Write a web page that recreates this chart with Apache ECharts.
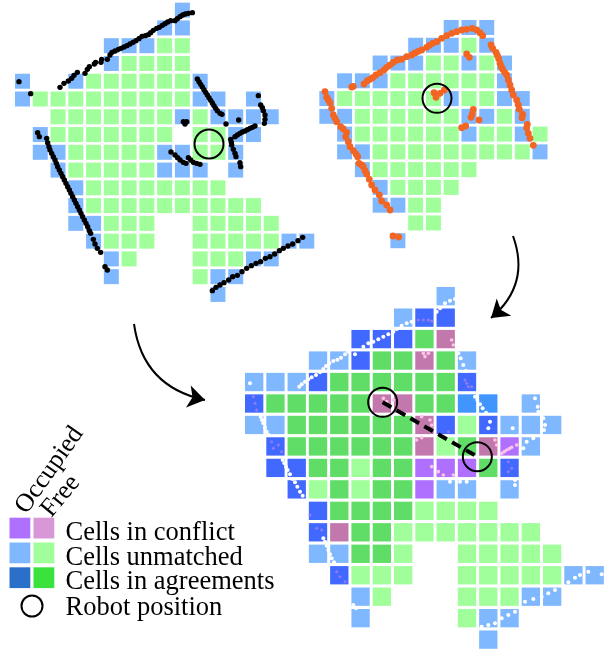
<!DOCTYPE html>
<html><head><meta charset="utf-8">
<style>html,body{margin:0;padding:0;background:#fff}#c{width:610px;height:649px}</style>
<script src="https://cdn.jsdelivr.net/npm/echarts@6/dist/echarts.min.js"></script>
</head><body><div id="c"></div>
<script>
// Occupancy maps, one string per row; each character is a cell state
const map1Rows = [".........U","........UU",".....UUUFF",".....UFFFF","U..UFFFFFFU","UFFFFFFFFFUU.U","..FFFFFFFUFUUUU",".UFFFFFFF.FFUU",".UUFFFFFUUFFU","..UFFFFFUUU.U","...UFFFFFFFF","...UFFFFFFFFFF","...UUFFF..FFFFF","....UFFF..FFFFFUU",".....UF...FFFUU",".....U....FUU","...........U"];
const map2Rows = [".......UUU",".....UUUFU","...UUUFFUFU",".UUUFFFFFFU","UFFFFFFUFFUU","UUFFFFFFUUFU",".UFFFFFFUFFUF",".UUFFFFFFFFFU","..UFFFFFF","...UFFFF","...UUFF",".....FF","....U"];
const map3Rows = [".........U",".......UBB",".....BBBGC","...UUBGGCGU","UUUBGGGGGGB","BGGGGGCCGGDD.U","UUGGGGGGCBFBUUU",".BGGGGGGCFGCPU",".BBGGFGGPPPGB","..BFGFGGPUU.U","...BGGGGFFFF","...BCGGFFFFFFF","...UUGGF..FFFFF","....BFFF..FFFFFUU",".....UF...FFFUU",".....U....FUU","...........U"];

// Laser returns, robot A
const scanA = [[57,245],[92,281],[180,262],[192,250],[205,243],[215,235],[222,226],[232,217],[255,220],[262,208],[268,200],[283,192],[287,187],[303,187],[305,178],[322,178],[330,165],[336,157],[345,153],[355,148],[363,145],[372,141],[381,137],[390,132],[399,127],[408,122],[417,116],[426,109],[436,107],[445,104],[452,98],[460,91],[470,85],[478,82],[487,76],[495,71],[503,66],[512,62],[525,62],[532,56],[540,50],[548,45],[556,42],[565,40],[577,38],
[113,398],[118,410],[140,415],[143,428],[147,440],[150,450],[155,460],[160,470],[165,480],[169,490],[173,500],[178,510],[183,520],[188,530],[193,540],[198,550],[203,560],[208,570],[213,580],[218,590],[223,600],[228,610],[233,620],[238,630],[243,640],[248,650],[253,660],[258,670],[263,680],[268,692],[272,700],[280,718],[285,732],[292,745],[302,757],[315,800],[322,810],
[592,237],[597,245],[602,253],[607,261],[612,269],[617,277],[622,285],[627,293],[632,301],[637,309],[642,317],[647,325],[652,332],[660,340],[666,343],[550,365],[560,365],[555,372],[678,372],[716,360],[775,287],[782,315],[787,323],[790,332],[795,345],[795,358],[793,370],
[765,378],[757,382],[750,385],[742,389],[735,393],[727,396],[720,400],[712,405],[705,410],[692,418],[694,427],[695,435],[700,448],[705,460],[708,470],[720,488],[722,500],[513,456],[525,465],[533,473],[540,480],[550,487],[558,490],[565,473],[572,480],[580,487],[590,490],[600,493],
[637,872],[648,862],[660,855],[672,848],[686,840],[698,830],[712,826],[726,815],[740,805],[754,797],[768,790],[782,785],[796,775],[810,770],[824,762],[838,752],[850,745],[864,738],[878,732],[894,722],[908,712]];
// Laser returns, robot B
const scanB = [[125,231],[130,229],[162,222],[172,212],[180,208],[188,203],[198,195],[210,188],[222,180],[230,172],[240,165],[250,157],[262,150],[275,148],[290,140],[305,135],[315,129],[325,124],[335,120],[350,112],[358,106],[368,100],[380,95],[395,85],[410,77],[425,70],[440,65],[455,60],[470,58],[487,55],[500,60],[510,68],[518,77],
[543,105],[548,115],[558,127],[562,136],[566,146],[570,160],[574,170],[578,178],[584,187],[590,195],[595,210],[600,225],[605,240],[610,255],[620,270],[625,285],[628,298],[638,313],[636,323],[652,343],[650,353],[655,370],[660,385],[670,406],
[45,245],[50,262],[55,270],[60,278],[65,295],[70,315],[75,325],[80,335],[92,350],[100,357],[110,367],[107,380],[115,395],[120,410],[130,422],[138,432],[143,440],[147,460],[155,465],[160,470],[165,482],[170,492],[178,508],[185,525],[195,540],[208,555],[215,573],[230,585],[240,600],
[470,132],[478,142],[490,298],[487,312],[483,322],[507,330],[467,348],[455,353],[372,248],[378,262],[390,250],[403,240],[249,678],[266,681]];
// Merged scan shown over the fused map
const mergedWhite = [[178,305],[185,298],[195,290],[205,283],[215,277],[228,270],[240,262],[250,252],[258,243],[268,235],[280,228],[292,224],[303,218],[315,208],[325,200],[345,208],[370,185],[385,175],[400,170],[415,163],[430,155],[445,148],[460,140],[470,132],[485,122],[500,115],[515,110],[590,80],[600,70],[615,55],[630,47],[645,42],
[30,295],[62,395],[66,405],[70,415],[75,428],[80,440],[86,450],[128,525],[133,535],[138,545],[143,555],[150,568],[158,582],[165,592],[172,605],[180,620],[188,632],[197,652],[250,760],[255,770],[260,782],[265,795],[270,808],[275,820],[282,832],[340,960],[348,970],
[725,1025],[745,1020],[765,1015],[785,1000],[805,990],[825,980],[855,950],[880,942],[905,935],[925,925],[945,915],[985,892],[1005,878],[1020,870],[1045,860],[1085,868],
[655,205],[662,220],[670,240],[678,258],[705,335],[712,345],[720,358],[728,370],[738,383],[750,410],[745,430],[885,340],[893,365],[895,380],[910,400],[915,420],[912,435],[860,470],[880,460],[850,490],[818,430],[630,590],[660,590],[680,590],[825,600],[825,585]];
const mergedPink = [[430,340],[440,350],[460,345],[550,205],[555,215],[565,205],[635,165],[640,180],[785,505],[793,500],[800,495],[808,491],[815,487],[830,480],[595,560],[610,570],[575,545],[640,570],[530,465],[545,458],[570,405],[575,420],[545,395],[765,465],[770,480]];
const mergedViolet = [[40,335],[45,355],[50,375],[675,285],[680,295],[685,305],[695,305],[95,470],[100,490],[115,480],[125,500],[805,530],[815,550],[805,560],[210,690],[230,730],[245,735],[290,860],[300,875],[315,890],[535,105],[550,105],[565,105],[575,108],[625,440]];

const robotA = [[627,432]];
const robotB = [[381,265]];
const robotsMerged = [[428,352],[712,515]];

const legendLabels = ["Cells in conflict","Cells unmatched","Cells in agreements","Robot position"];
const headerLabels = ["Occupied","Free"];

const colors = {U:"#80b8ff",F:"#a0ff9a",B:"#4169ff",G:"#5fdd66",C:"#c278ad",P:"#b070ff",D:"#4095ff"};
const legendColors = [["#b070ff","#d898d8"],["#80b8ff","#a0ff9a"],["#2a6fc8","#3ae23e"]];

function cells(rows,x0,y0,px,py){
  const out=[];
  rows.forEach((r,i)=>[...r].forEach((ch,j)=>{ if(ch!=='.') out.push([x0+j*px,y0+i*py,ch]); }));
  return out;
}
function cellSeries(idx,rows,x0,y0,px,py,w){
  const data=cells(rows,x0,y0,px,py);
  return {type:'custom',xAxisIndex:idx,yAxisIndex:idx,silent:true,clip:false,
    data:data.map(d=>[d[0],d[1]]),encode:{x:0,y:1},
    renderItem:(p,api)=>{
      const a=api.coord([api.value(0),api.value(1)]),b=api.coord([api.value(0)+w,api.value(1)+w]);
      return {type:'rect',shape:{x:a[0],y:a[1],width:b[0]-a[0],height:b[1]-a[1]},
        style:{fill:colors[data[p.dataIndex][2]]}};
    }};
}
function dots(idx,data,size,color,z){
  return {type:'scatter',xAxisIndex:idx,yAxisIndex:idx,data,symbolSize:size,silent:true,clip:false,z:z||3,
    itemStyle:{color,opacity:1}};
}
function rings(idx,data,size,z){
  return {type:'scatter',xAxisIndex:idx,yAxisIndex:idx,data,symbolSize:size,silent:true,clip:false,z:z||6,
    itemStyle:{color:'rgba(0,0,0,0)',borderColor:'#000',borderWidth:2,opacity:1}};
}
function panel(l,t,w,h){return {left:l,top:t,width:w,height:h,show:false,containLabel:false};}
function xa(i,max){return {type:'value',gridIndex:i,min:0,max,show:false};}
function ya(i,max){return {type:'value',gridIndex:i,min:0,max,inverse:true,show:false};}

const font='"Liberation Serif","Times New Roman",serif';
const textY=[533.5,558,582.5,608];
const graphic=[];
legendLabels.forEach((t,i)=>graphic.push({type:'text',silent:true,z:10,x:65.5,y:textY[i],
  style:{text:t,fill:'#000',font:'26.5px '+font,align:'left',verticalAlign:'middle'}}));
graphic.push({type:'text',silent:true,z:10,x:21,y:511,rotation:0.96,style:{text:headerLabels[0],fill:'#000',font:'26px '+font,align:'left',verticalAlign:'middle'}});
graphic.push({type:'text',silent:true,z:10,x:46,y:514,rotation:0.88,style:{text:headerLabels[1],fill:'#000',font:'26px '+font,align:'left',verticalAlign:'middle'}});

const legendSwatches=[];
legendColors.forEach((r,i)=>r.forEach((c,j)=>legendSwatches.push({value:[9.5+j*24,517.7+i*24.8],c})));

const option={
  animation:false,backgroundColor:'#fff',graphic,
  grid:[panel(0,0,320,310),panel(310,10,240,240),panel(240,285,370,364),panel(0,0,610,649)],
  xAxis:[xa(0,960),xa(1,720),xa(2,1110),xa(3,610)],
  yAxis:[ya(0,930),ya(1,720),ya(2,1092),ya(3,649)],
  series:[
    cellSeries(0,map1Rows,45,8,53.3,53.3,45),
    cellSeries(1,map2Rows,28,30,53.3,53.3,45),
    cellSeries(2,map3Rows,15,6,63.85,64.4,55),
    dots(0,scanA,5.4,'#000'),
    dots(1,scanB,6.8,'#f26522'),
    dots(2,mergedViolet,3,'#8f7cf5'),
    dots(2,mergedWhite,4,'#ffffff'),
    dots(2,mergedPink,3.6,'#ffc4e6'),
    rings(0,robotA,29),rings(1,robotB,29),rings(2,robotsMerged,29),
    {type:'line',xAxisIndex:2,yAxisIndex:2,data:robotsMerged,symbol:'none',silent:true,z:5,
      lineStyle:{color:'#000',width:4,type:[10,6]}},
    {type:'lines',coordinateSystem:'cartesian2d',xAxisIndex:3,yAxisIndex:3,silent:true,z:5,
      symbol:['none','arrow'],symbolSize:17,
      lineStyle:{color:'#000',width:2,opacity:1},
      data:[{coords:[[134,324],[205,400]],lineStyle:{curveness:-0.35}},{coords:[[513,236],[491,318]],lineStyle:{curveness:0.35}}]},
    {type:'custom',xAxisIndex:3,yAxisIndex:3,silent:true,data:legendSwatches.map(d=>d.value),
      encode:{x:0,y:1},
      renderItem:(p,api)=>{
        const a=api.coord([api.value(0),api.value(1)]),b=api.coord([api.value(0)+20.8,api.value(1)+20.8]);
        return {type:'rect',shape:{x:a[0],y:a[1],width:b[0]-a[0],height:b[1]-a[1]},style:{fill:legendSwatches[p.dataIndex].c}};
      }},
    rings(3,[[32,606]],21)
  ]
};
const chart=echarts.init(document.getElementById('c'),null,{renderer:'canvas'});
chart.setOption(option);
</script></body></html>
